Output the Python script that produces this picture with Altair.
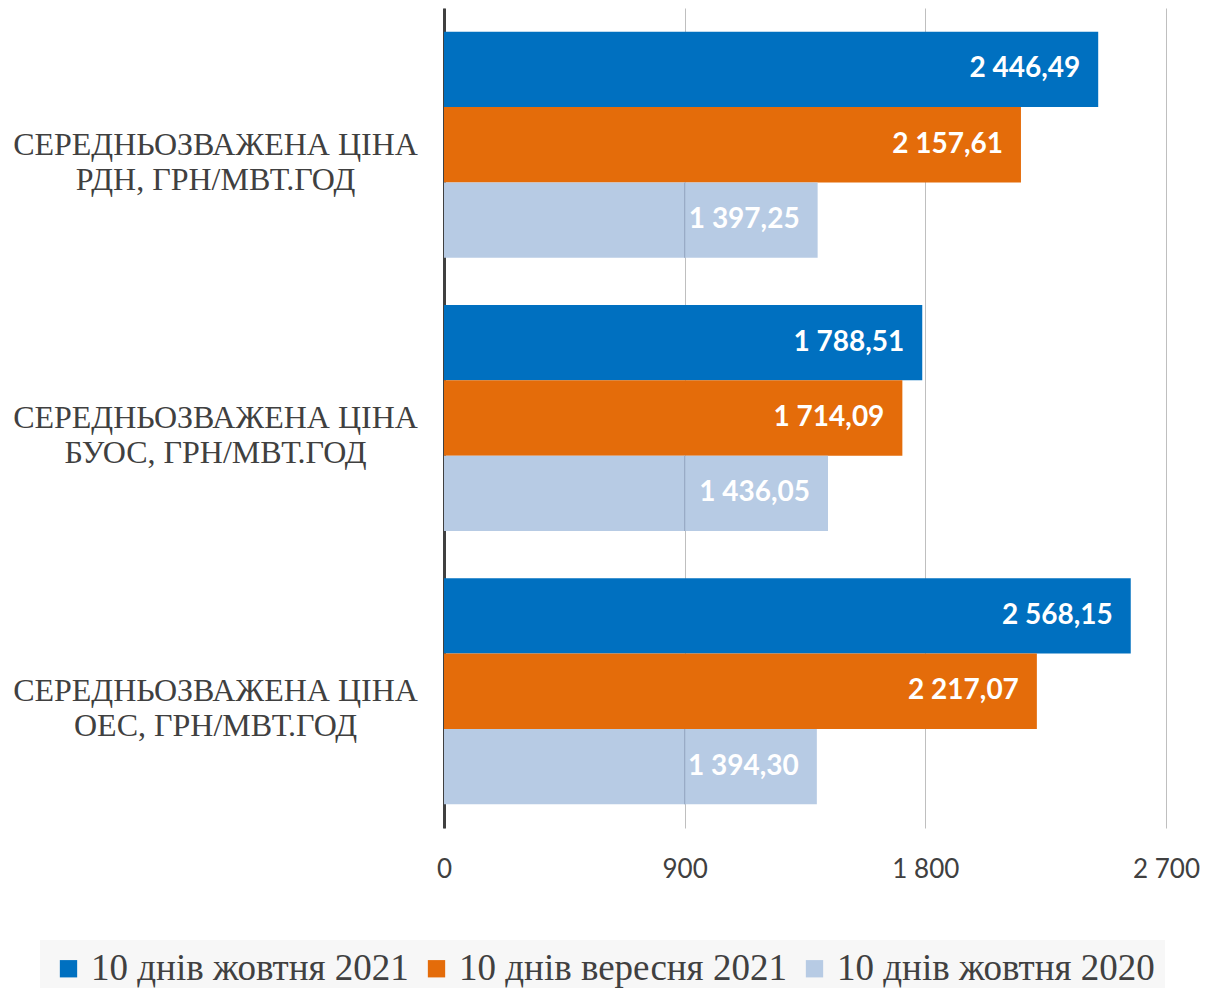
import altair as alt
import pandas as pd

categories = [
    "СЕРЕДНЬОЗВАЖЕНА ЦІНА РДН, ГРН/МВТ.ГОД",
    "СЕРЕДНЬОЗВАЖЕНА ЦІНА БУОС, ГРН/МВТ.ГОД",
    "СЕРЕДНЬОЗВАЖЕНА ЦІНА ОЕС, ГРН/МВТ.ГОД",
]
series = ["10 днів жовтня 2021", "10 днів вересня 2021", "10 днів жовтня 2020"]
oct_2021 = [2446.49, 1788.51, 2568.15]
sep_2021 = [2157.61, 1714.09, 2217.07]
oct_2020 = [1397.25, 1436.05, 1394.30]
x_ticks = [0, 900, 1800, 2700]
colors = ["#0070C0", "#E46C0A", "#B7CBE4"]

rows = []
for s, vals in zip(series, [oct_2021, sep_2021, oct_2020]):
    for c, v in zip(categories, vals):
        lab = f"{v:,.2f}".replace(",", " ").replace(".", ",")
        rows.append({"category": c, "series": s, "value": v, "label": lab})
df = pd.DataFrame(rows)

y_enc = alt.Y(
    "category:N",
    sort=categories,
    scale=alt.Scale(paddingInner=0.173, paddingOuter=0.087),
    axis=alt.Axis(
        title=None,
        ticks=False,
        domain=True,
        domainColor="#404040",
        domainWidth=3,
        labelFont="Liberation Serif",
        labelFontSize=32,
        labelColor="#404040",
        labelAlign="center",
        labelBaseline="middle",
        labelPadding=229,
        labelLineHeight=35,
        labelLimit=600,
        labelExpr="[substring(datum.label, 0, indexof(datum.label, 'ЦІНА') + 4), substring(datum.label, indexof(datum.label, 'ЦІНА') + 5)]",
    ),
)
yoff = alt.YOffset("series:N", sort=series, scale=alt.Scale(paddingInner=0, paddingOuter=0))

bars = alt.Chart(df).mark_bar().encode(
    y=y_enc,
    yOffset=yoff,
    x=alt.X(
        "value:Q",
        scale=alt.Scale(domain=[0, 2700], nice=False),
        axis=alt.Axis(
            title=None,
            values=x_ticks,
            ticks=False,
            domain=False,
            grid=True,
            gridColor="#bfbfbf",
            gridWidth=1,
            labelFont="Lato",
            labelFontSize=26,
            labelColor="#404040",
            labelPadding=28,
            labelFlush=False,
            labelExpr="replace(format(datum.value, ','), ',', ' ')",
        ),
    ),
    color=alt.Color(
        "series:N",
        sort=series,
        scale=alt.Scale(domain=series, range=colors),
        legend=alt.Legend(
            title=None,
            orient="none",
            legendX=-404,
            legendY=932,
            direction="horizontal",
            fillColor="#f7f7f7",
            padding=10,
            symbolType="square",
            symbolSize=300,
            symbolStrokeWidth=0,
            symbolOpacity=1,
            labelFont="Liberation Serif",
            labelFontSize=37,
            labelColor="#404040",
            labelLimit=500,
            labelOffset=4,
            columnPadding=9,
        ),
    ),
)

# gridline showing through the translucent light bars
grid_through = (
    alt.Chart(df)
    .transform_filter(alt.datum.series == series[2])
    .transform_filter(alt.datum.value > x_ticks[1])
    .mark_bar(fill="#97A9C4", stroke="#97A9C4", strokeWidth=1.2)
    .encode(
        y=alt.Y("category:N", sort=categories),
        yOffset=alt.YOffset("series:N", sort=series),
        x=alt.datum(x_ticks[1]),
        x2=alt.datum(x_ticks[1]),
    )
)

texts = alt.Chart(df).mark_text(
    align="right", baseline="middle", dx=-18, font="Lato", fontWeight="bold", fontSize=28, color="white"
).encode(
    y=alt.Y("category:N", sort=categories),
    yOffset=alt.YOffset("series:N", sort=series),
    x=alt.X("value:Q"),
    text="label:N",
)

chart = (
    alt.layer(bars, grid_through, texts)
    .properties(
        width=722,
        height=820,
        autosize=alt.AutoSizeParams(type="none"),
        padding={"left": 436, "top": 0, "right": 35, "bottom": 160},
    )
    .configure_view(stroke=None)
)

chart.save("out.html", embed_options={"renderer": "svg", "actions": False})
